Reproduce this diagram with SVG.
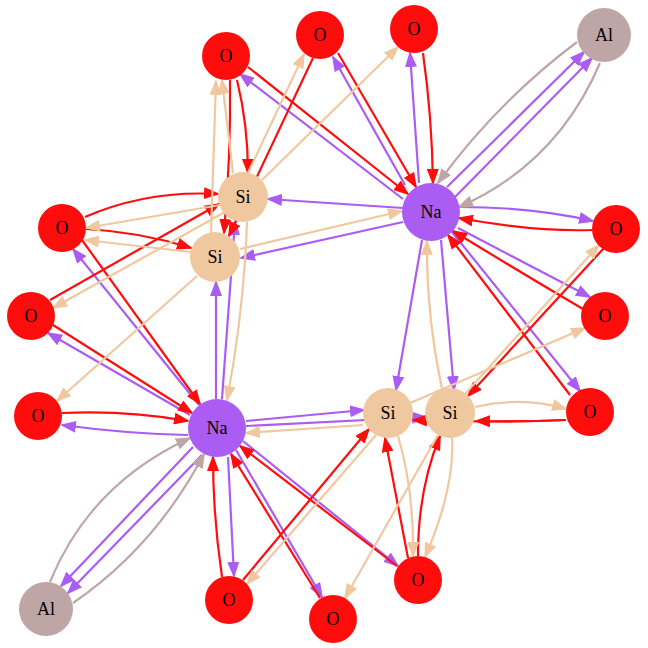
<svg xmlns="http://www.w3.org/2000/svg" width="648" height="648" viewBox="0 0 648 648">
<style>
.e{fill:none;stroke-width:2.2}
.r{stroke:#FF0D0D;marker-end:url(#ar)}
.p{stroke:#AB5CF2;marker-end:url(#ap)}
.t{stroke:#F0C8A0;marker-end:url(#at)}
.g{stroke:#BFA6A6;marker-end:url(#ag)}
.O{fill:#FF0D0D}.Na{fill:#AB5CF2}.Si{fill:#F0C8A0}.Al{fill:#BFA6A6}
text{font-family:"Liberation Serif","Times New Roman",serif;font-size:18px;fill:#000;text-anchor:middle}
</style>
<defs>
<marker id="ar" viewBox="0 0 16 12" refX="14" refY="6" markerWidth="16" markerHeight="12" markerUnits="userSpaceOnUse" orient="auto"><path d="M0,0L16,6L0,12z" fill="#FF0D0D"/></marker>
<marker id="ap" viewBox="0 0 16 12" refX="14" refY="6" markerWidth="16" markerHeight="12" markerUnits="userSpaceOnUse" orient="auto"><path d="M0,0L16,6L0,12z" fill="#AB5CF2"/></marker>
<marker id="at" viewBox="0 0 16 12" refX="14" refY="6" markerWidth="16" markerHeight="12" markerUnits="userSpaceOnUse" orient="auto"><path d="M0,0L16,6L0,12z" fill="#F0C8A0"/></marker>
<marker id="ag" viewBox="0 0 16 12" refX="14" refY="6" markerWidth="16" markerHeight="12" markerUnits="userSpaceOnUse" orient="auto"><path d="M0,0L16,6L0,12z" fill="#BFA6A6"/></marker>
</defs>
<g id="edges">
<path class="e p" d="M403,199 L240,74"/>
<path class="e p" d="M405,185 L333,57"/>
<path class="e p" d="M419,183 L410,53"/>
<path class="e p" d="M447,187 L584,52"/>
<path class="e p" d="M455,197 L592,58"/>
<path class="e p" d="M460,207 Q533,207 593,221"/>
<path class="e p" d="M458,228 L590,297"/>
<path class="e p" d="M452,232 L580,391"/>
<path class="e p" d="M441,240 L454,390"/>
<path class="e p" d="M422,240 L396,390"/>
<path class="e p" d="M403,208 L268,199"/>
<path class="e p" d="M403,222 L241,258"/>
<path class="e p" d="M216,399 L216,282"/>
<path class="e p" d="M222,399 L235,221"/>
<path class="e p" d="M199,405 L73,249"/>
<path class="e p" d="M190,415 L48,333"/>
<path class="e p" d="M188,435 Q129,434 62,425"/>
<path class="e p" d="M193,447 L61,586"/>
<path class="e p" d="M202,455 L68,593"/>
<path class="e p" d="M228,457 L234,576"/>
<path class="e p" d="M236,450 L322,597"/>
<path class="e p" d="M243,441 L398,566"/>
<path class="e p" d="M246,421 L364,410"/>
<path class="e p" d="M246,426 L426,417"/>
<path class="e r" d="M248,67 L408,194"/>
<path class="e r" d="M338,53 L416,187"/>
<path class="e r" d="M423,53 Q432,117 433,183"/>
<path class="e r" d="M593,230 Q535,232 459,218"/>
<path class="e r" d="M583,309 Q520,272 453,231"/>
<path class="e r" d="M570,395 L448,235"/>
<path class="e r" d="M237,80 Q248,125 248,173"/>
<path class="e r" d="M230,80 Q231,155 224,233"/>
<path class="e r" d="M313,58 L229,236"/>
<path class="e r" d="M85,217 Q147,190 218,194"/>
<path class="e r" d="M86,229 Q141,232 191,248"/>
<path class="e r" d="M82,240 L200,404"/>
<path class="e r" d="M50,300 L219,204"/>
<path class="e r" d="M53,325 L192,413"/>
<path class="e r" d="M62,413 Q127,410 188,421"/>
<path class="e r" d="M222,577 Q213,516 213,457"/>
<path class="e r" d="M320,598 L231,454"/>
<path class="e r" d="M397,566 L240,446"/>
<path class="e r" d="M243,580 L369,429"/>
<path class="e r" d="M408,558 L385,438"/>
<path class="e r" d="M418,556 Q418,489 440,436"/>
<path class="e r" d="M604,248 L468,396"/>
<path class="e r" d="M566,420 Q520,422 476,421"/>
<path class="e r" d="M566,420 Q490,423 413,420"/>
<path class="e t" d="M240,249 L402,211"/>
<path class="e t" d="M442,389 Q426,313 427,241"/>
<path class="e t" d="M233,173 L222,80"/>
<path class="e t" d="M211,233 L216,81"/>
<path class="e t" d="M248,173 L304,54"/>
<path class="e t" d="M262,180 L398,47"/>
<path class="e t" d="M220,205 L86,228"/>
<path class="e t" d="M191,252 L85,240"/>
<path class="e t" d="M225,212 L53,308"/>
<path class="e t" d="M197,276 L57,401"/>
<path class="e t" d="M247,222 Q244,311 227,400"/>
<path class="e t" d="M363,425 L246,433"/>
<path class="e t" d="M410,403 L585,328"/>
<path class="e t" d="M465,394 L599,245"/>
<path class="e t" d="M475,407 Q523,396 566,409"/>
<path class="e t" d="M376,435 L247,584"/>
<path class="e t" d="M438,435 L345,598"/>
<path class="e t" d="M398,436 Q414,490 413,556"/>
<path class="e t" d="M452,438 Q455,488 425,557"/>
<path class="e g" d="M577,42 Q497,102 438,183"/>
<path class="e g" d="M600,63 Q557,164 459,207"/>
<path class="e g" d="M50,582 Q90,484 190,438"/>
<path class="e g" d="M73,603 Q155,547 204,454"/>
</g>
<g id="O1"><circle class="O" cx="226" cy="56" r="24"/><text x="226" y="62">O</text></g>
<g id="O2"><circle class="O" cx="320" cy="35" r="24"/><text x="320" y="41">O</text></g>
<g id="O3"><circle class="O" cx="414" cy="29" r="24"/><text x="414" y="35">O</text></g>
<g id="Al1"><circle class="Al" cx="604" cy="35" r="27"/><text x="604" y="41">Al</text></g>
<g id="Na1"><circle class="Na" cx="431" cy="212" r="29"/><text x="431" y="218">Na</text></g>
<g id="O4"><circle class="O" cx="616" cy="229" r="24"/><text x="616" y="235">O</text></g>
<g id="Si1"><circle class="Si" cx="243" cy="197" r="25"/><text x="243" y="203">Si</text></g>
<g id="Si2"><circle class="Si" cx="215" cy="257" r="25"/><text x="215" y="263">Si</text></g>
<g id="O5"><circle class="O" cx="62" cy="228" r="24"/><text x="62" y="234">O</text></g>
<g id="O6"><circle class="O" cx="31" cy="316" r="24"/><text x="31" y="322">O</text></g>
<g id="O7"><circle class="O" cx="38" cy="416" r="24"/><text x="38" y="422">O</text></g>
<g id="Na2"><circle class="Na" cx="217" cy="428" r="29"/><text x="217" y="434">Na</text></g>
<g id="O8"><circle class="O" cx="605" cy="316" r="24"/><text x="605" y="322">O</text></g>
<g id="O9"><circle class="O" cx="590" cy="412" r="24"/><text x="590" y="418">O</text></g>
<g id="Si3"><circle class="Si" cx="388" cy="413" r="25"/><text x="388" y="419">Si</text></g>
<g id="Si4"><circle class="Si" cx="450" cy="413" r="25"/><text x="450" y="419">Si</text></g>
<g id="Al2"><circle class="Al" cx="46" cy="609" r="27"/><text x="46" y="615">Al</text></g>
<g id="O10"><circle class="O" cx="229" cy="600" r="24"/><text x="229" y="606">O</text></g>
<g id="O11"><circle class="O" cx="418" cy="580" r="24"/><text x="418" y="586">O</text></g>
<g id="O12"><circle class="O" cx="333" cy="619" r="24"/><text x="333" y="625">O</text></g>
</svg>
